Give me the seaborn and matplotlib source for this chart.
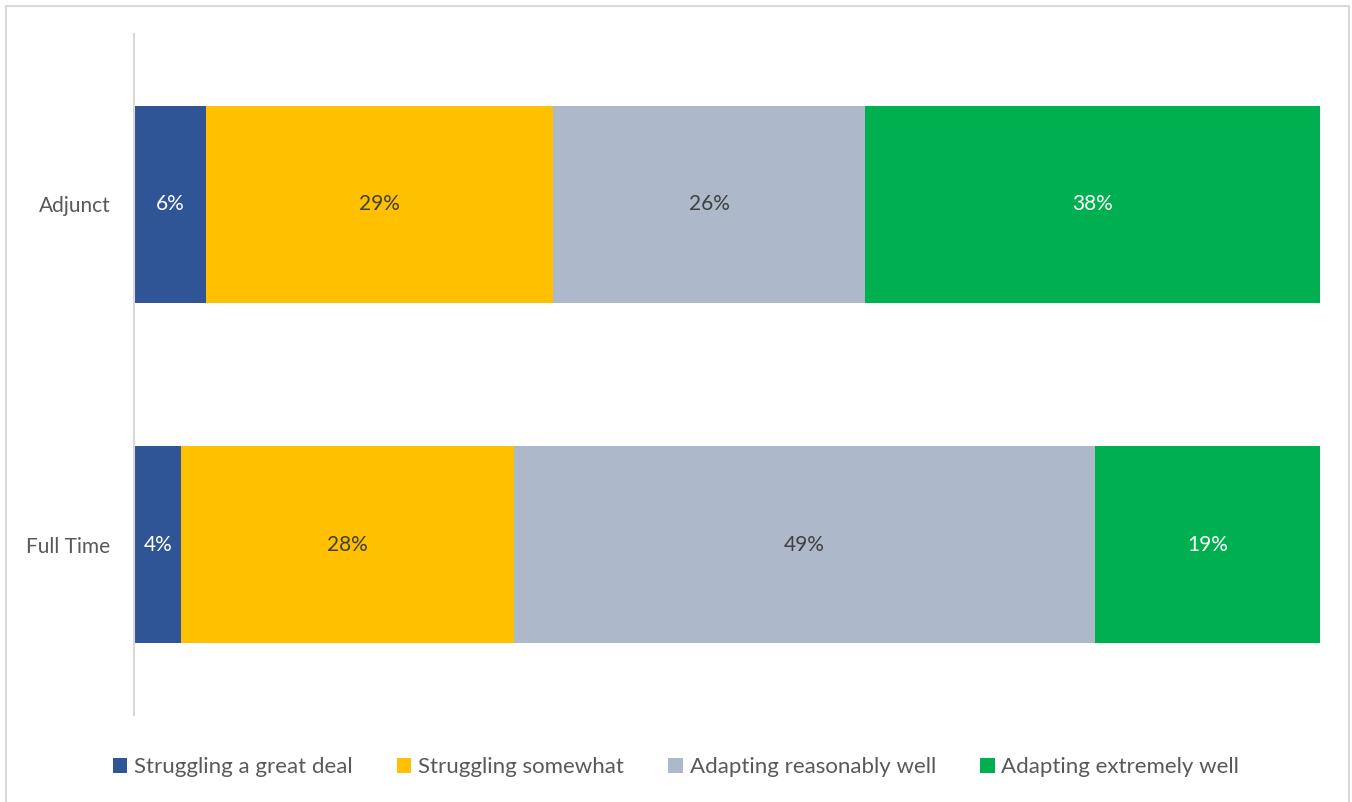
import matplotlib
matplotlib.use("Agg")
import matplotlib.pyplot as plt
from matplotlib.patches import Rectangle, Patch
import numpy as np
import pandas as pd
import seaborn as sns

# Survey responses by faculty type (percent of respondents)
groups = ["Adjunct", "Full Time"]
responses = ["Struggling a great deal", "Struggling somewhat",
             "Adapting reasonably well", "Adapting extremely well"]
struggling_great = [6, 4]
struggling_some = [29, 28]
adapting_reasonably = [26, 49]
adapting_extremely = [38, 19]

colors = ["#2F5597", "#FFC000", "#ADB9CA", "#00B050"]
label_colors = ["white", "#404040", "#404040", "white"]

sns.set_theme(style="white")
plt.rcParams["font.family"] = ["Lato", "DejaVu Sans"]

series = np.array([struggling_great, struggling_some,
                   adapting_reasonably, adapting_extremely], dtype=float)
# 100% stacked: each group's segments are shares of that group's total
shares = series / series.sum(axis=0) * 100
cum = np.cumsum(shares, axis=0)

fig = plt.figure(figsize=(13.52, 8.02), dpi=100)
ax = fig.add_axes([134 / 1352, 1 - 715 / 802, (1320 - 134) / 1352, (715 - 34) / 802])

# Draw from the full stack down so each earlier segment sits on top
for i in range(len(responses) - 1, -1, -1):
    df = pd.DataFrame({"group": groups, "value": cum[i]})
    sns.barplot(data=df, y="group", x="value", orient="h", color=colors[i],
                saturation=1, width=0.58, ax=ax, linewidth=0)

for i in range(len(responses)):
    for j, g in enumerate(groups):
        center = cum[i, j] - shares[i, j] / 2
        ax.text(center, j, f"{int(series[i, j])}%", ha="center", va="center",
                fontsize=15, color=label_colors[i])

ax.set_xlim(0, 100)
ax.set_ylim(1.5, -0.5)
ax.set_xlabel("")
ax.set_ylabel("")
ax.set_xticks([])
ax.tick_params(axis="y", length=0, pad=17, labelsize=15, labelcolor="#595959")
for side in ["top", "right", "bottom"]:
    ax.spines[side].set_visible(False)
ax.spines["left"].set_color("#D9D9D9")
ax.spines["left"].set_linewidth(1.5)

handles = [Patch(facecolor=c, edgecolor="none") for c in colors]
fig.legend(handles, responses, loc="center", bbox_to_anchor=(0.5, 1 - 767 / 802),
           ncol=4, frameon=False, fontsize=16, handlelength=0.65, handleheight=0.65,
           handletextpad=0.3, columnspacing=2.0, labelcolor="#595959")

# Chart area border
fig.patches.append(Rectangle((5.5 / 1352, -0.01), (1349 - 5.5) / 1352, 1 - 5.5 / 802 + 0.01,
                             transform=fig.transFigure, fill=False,
                             edgecolor="#D9D9D9", linewidth=1.5))

fig.savefig("out.png", dpi=100, facecolor="white")
